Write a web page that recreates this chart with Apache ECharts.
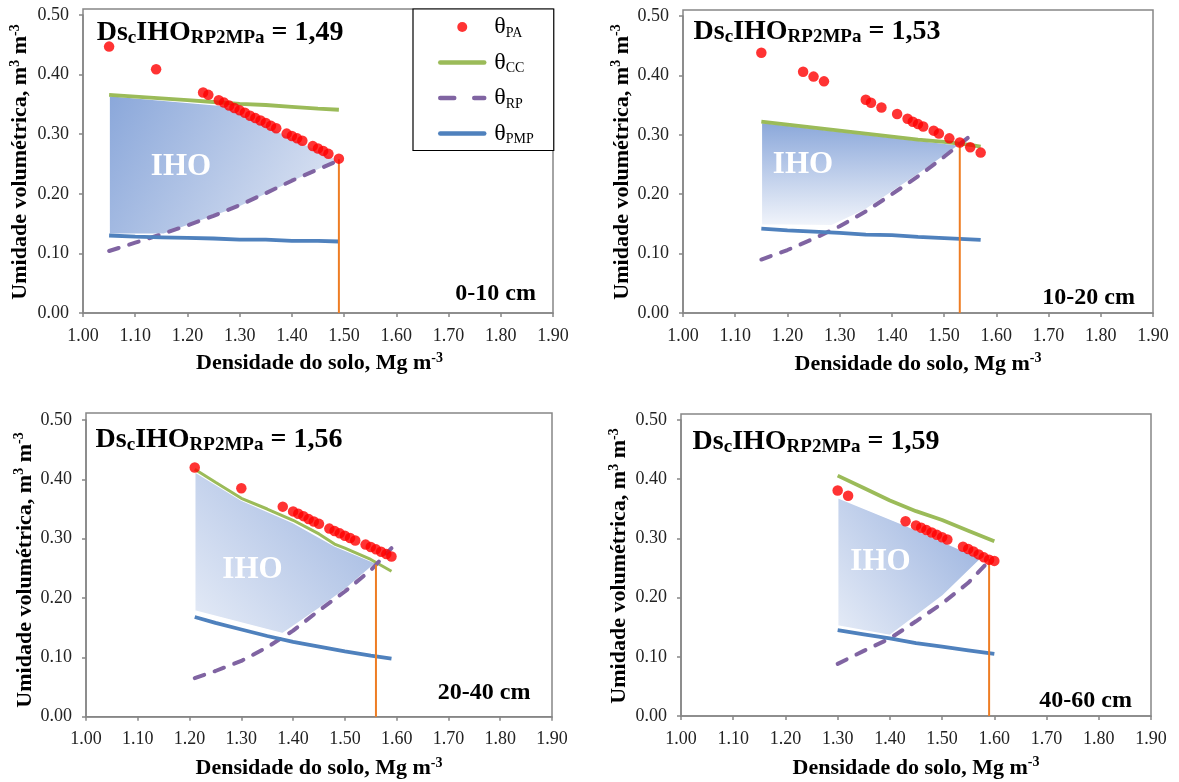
<!DOCTYPE html>
<html><head><meta charset="utf-8">
<script src="https://cdn.jsdelivr.net/npm/echarts@6/dist/echarts.min.js"></script>
<style>html,body{margin:0;padding:0;background:#fff}#c{width:1179px;height:782px}</style>
</head><body><div id="c"></div>
<script>
// ---------------- DATA ----------------
const depthLabels = ['0-10 cm', '10-20 cm', '20-40 cm', '40-60 cm'];
const dscLabels = ['1,49', '1,53', '1,56', '1,59'];
const dscValues = [1.49, 1.53, 1.56, 1.59];
const dscTops = [0.258, 0.283, 0.256, 0.265];
const legendNames = ['PA', 'CC', 'RP', 'PMP'];

// Panel 1 (0-10 cm)
const pa1X = [1.05,1.14,1.23,1.24,1.26,1.27,1.28,1.29,1.30,1.31,1.32,1.33,1.34,1.35,1.36,1.37,1.39,1.40,1.41,1.42,1.44,1.45,1.46,1.47,1.49];
const pa1Y = [0.447,0.409,0.370,0.366,0.357,0.353,0.348,0.344,0.340,0.336,0.331,0.327,0.323,0.319,0.314,0.310,0.301,0.297,0.293,0.289,0.280,0.276,0.272,0.267,0.259];
const cc1X = [1.05,1.10,1.15,1.20,1.25,1.30,1.35,1.40,1.45,1.49];
const cc1Y = [0.366,0.363,0.360,0.357,0.354,0.351,0.349,0.346,0.343,0.341];
const rp1X = [1.05,1.10,1.15,1.20,1.25,1.30,1.35,1.40,1.45,1.49];
const rp1Y = [0.104,0.118,0.132,0.147,0.163,0.181,0.201,0.222,0.241,0.256];
const pmp1X = [1.05,1.10,1.15,1.20,1.25,1.30,1.35,1.40,1.45,1.49];
const pmp1Y = [0.130,0.128,0.127,0.126,0.125,0.123,0.123,0.121,0.121,0.120];
const iho1X = [1.05,1.27,1.37,1.49,1.40,1.30,1.155,1.05];
const iho1Y = [0.365,0.348,0.306,0.256,0.220,0.178,0.132,0.132];

// Panel 2 (10-20 cm)
const pa2X = [1.15,1.23,1.25,1.27,1.35,1.36,1.38,1.41,1.43,1.44,1.45,1.46,1.48,1.49,1.51,1.53,1.55,1.57];
const pa2Y = [0.438,0.406,0.398,0.390,0.359,0.354,0.346,0.335,0.327,0.322,0.318,0.314,0.307,0.302,0.294,0.287,0.279,0.270];
const cc2X = [1.15,1.20,1.25,1.30,1.35,1.40,1.45,1.50,1.55,1.57];
const cc2Y = [0.322,0.317,0.312,0.307,0.302,0.297,0.292,0.288,0.283,0.280];
const rp2X = [1.15,1.20,1.25,1.30,1.35,1.40,1.45,1.50,1.53,1.56];
const rp2Y = [0.090,0.106,0.125,0.146,0.171,0.200,0.230,0.263,0.284,0.305];
const pmp2X = [1.15,1.20,1.25,1.30,1.35,1.40,1.45,1.50,1.55,1.57];
const pmp2Y = [0.142,0.139,0.137,0.135,0.132,0.131,0.128,0.126,0.124,0.123];
const iho2X = [1.15,1.53,1.45,1.35,1.285,1.15];
const iho2Y = [0.321,0.283,0.233,0.174,0.147,0.148];

// Panel 3 (20-40 cm)
const pa3X = [1.21,1.30,1.38,1.40,1.41,1.42,1.43,1.44,1.45,1.47,1.48,1.49,1.50,1.51,1.52,1.54,1.55,1.56,1.57,1.58,1.59];
const pa3Y = [0.420,0.385,0.354,0.346,0.342,0.338,0.333,0.329,0.325,0.317,0.313,0.309,0.305,0.301,0.297,0.290,0.286,0.282,0.278,0.274,0.270];
const cc3X = [1.21,1.25,1.30,1.35,1.40,1.45,1.48,1.50,1.55,1.59];
const cc3Y = [0.417,0.395,0.368,0.350,0.331,0.308,0.291,0.284,0.265,0.245];
const rp3X = [1.21,1.25,1.30,1.35,1.40,1.45,1.50,1.55,1.59];
const rp3Y = [0.065,0.077,0.094,0.117,0.145,0.179,0.211,0.247,0.284];
const pmp3X = [1.21,1.25,1.30,1.35,1.40,1.45,1.50,1.55,1.59];
const pmp3Y = [0.168,0.158,0.147,0.136,0.126,0.118,0.110,0.103,0.098];
const iho3X = [1.21,1.30,1.40,1.48,1.56,1.50,1.45,1.38,1.21];
const iho3Y = [0.413,0.365,0.327,0.288,0.259,0.214,0.182,0.140,0.178];

// Panel 4 (40-60 cm)
const pa4X = [1.30,1.32,1.43,1.45,1.46,1.47,1.48,1.49,1.50,1.51,1.54,1.55,1.56,1.57,1.58,1.59,1.60];
const pa4Y = [0.381,0.372,0.329,0.322,0.318,0.314,0.310,0.306,0.302,0.298,0.286,0.282,0.278,0.273,0.268,0.264,0.262];
const cc4X = [1.30,1.35,1.40,1.45,1.50,1.55,1.60];
const cc4Y = [0.406,0.385,0.364,0.346,0.331,0.313,0.295];
const rp4X = [1.30,1.35,1.40,1.45,1.50,1.55,1.59];
const rp4Y = [0.088,0.110,0.131,0.160,0.190,0.225,0.262];
const pmp4X = [1.30,1.35,1.40,1.45,1.50,1.55,1.60];
const pmp4Y = [0.145,0.138,0.131,0.123,0.117,0.111,0.105];
const iho4X = [1.30,1.43,1.575,1.50,1.40,1.30];
const iho4Y = [0.369,0.322,0.266,0.202,0.136,0.152];

// ---------------- LAYOUT / STYLE ----------------
const FONT = '"Liberation Serif","Times New Roman",serif';
const C_PA = '#ff0000', C_CC = '#9bbb59', C_RP = '#8064a2', C_PMP = '#4f81bd', C_DS = '#ee7d24';
const layout = [
  {left:83,  top:15,  width:470, height:298,   frameTop:9,   title:[96.7,17.3],  iho:[181,167],   depth:[536,294],    xTitle:[319.5,363.5], yTitle:[20.5,162], grad:[0,0,1,1,'#8aa7da','#e3e9f5']},
  {left:683, top:16,  width:470, height:297,   frameTop:10,  title:[693.6,16.3], iho:[803,165],   depth:[1135,297.4], xTitle:[918,364],     yTitle:[622,162],  grad:[0,0,0,1,'#8aa7da','#f2f5fb']},
  {left:86,  top:420, width:466, height:296.7, frameTop:413, title:[95.6,424.9], iho:[252.5,570], depth:[530.4,692.4],xTitle:[319,768.7],   yTitle:[25,570],   grad:[0,1,1,0,'#e6ecf7','#9bb3df']},
  {left:681, top:420, width:470, height:296,   frameTop:414, title:[692.6,426.5],iho:[880.5,561.7],depth:[1132,700.7],xTitle:[916,768],     yTitle:[619.5,566],grad:[0,1,1,0.2,'#e6ecf7','#9bb3df']}
];

const panelData = [
  {pa:[pa1X,pa1Y], cc:[cc1X,cc1Y], rp:[rp1X,rp1Y], pmp:[pmp1X,pmp1Y], iho:[iho1X,iho1Y]},
  {pa:[pa2X,pa2Y], cc:[cc2X,cc2Y], rp:[rp2X,rp2Y], pmp:[pmp2X,pmp2Y], iho:[iho2X,iho2Y]},
  {pa:[pa3X,pa3Y], cc:[cc3X,cc3Y], rp:[rp3X,rp3Y], pmp:[pmp3X,pmp3Y], iho:[iho3X,iho3Y]},
  {pa:[pa4X,pa4Y], cc:[cc4X,cc4Y], rp:[rp4X,rp4Y], pmp:[pmp4X,pmp4Y], iho:[iho4X,iho4Y]}
];
const zip = (xs, ys) => xs.map((x, k) => [x, ys[k]]);

const grids = [], xAxes = [], yAxes = [], series = [], graphics = [];
const axisColor = '#868686';

layout.forEach((L, i) => {
  grids.push({left:L.left, top:L.top, width:L.width, height:L.height, containLabel:false});
  xAxes.push({
    type:'value', gridIndex:i, min:1.0, max:1.9, interval:0.1,
    axisLine:{show:true, onZero:false, lineStyle:{color:axisColor, width:1.5}},
    axisTick:{show:true, inside:false, length:4, lineStyle:{color:axisColor, width:1.5}},
    splitLine:{show:false},
    axisLabel:{fontFamily:FONT, fontSize:18, color:'#222', margin:14, formatter:v => v.toFixed(2)}
  });
  yAxes.push({
    type:'value', gridIndex:i, min:0, max:0.5, interval:0.1,
    axisLine:{show:true, onZero:false, lineStyle:{color:axisColor, width:1.5}},
    axisTick:{show:true, inside:false, length:4, lineStyle:{color:axisColor, width:1.5}},
    splitLine:{show:false},
    axisLabel:{fontFamily:FONT, fontSize:18, color:'#222', margin:14, formatter:v => v.toFixed(2)}
  });
  const D = panelData[i];
  const g = L.grad;
  const fill = new echarts.graphic.LinearGradient(g[0], g[1], g[2], g[3], [{offset:0, color:g[4]}, {offset:1, color:g[5]}]);
  series.push({
    type:'custom', name:'IHO', coordinateSystem:'cartesian2d', xAxisIndex:i, yAxisIndex:i,
    data:[[D.iho[0][0], D.iho[1][0]]], silent:true, z:1,
    renderItem:(params, api) => {
      const pts = D.iho[0].map((x, k) => api.coord([x, D.iho[1][k]]));
      return {type:'polygon', shape:{points:pts}, style:{fill:fill, stroke:'#ffffff', lineWidth:1.5}};
    }
  });
  series.push({type:'line', name:'CC', xAxisIndex:i, yAxisIndex:i, data:zip(D.cc[0], D.cc[1]), symbol:'none', color:C_CC,
    lineStyle:{color:C_CC, width:i===2?3:3.8}, z:3, silent:true});
  series.push({type:'line', name:'RP', xAxisIndex:i, yAxisIndex:i, data:zip(D.rp[0], D.rp[1]), symbol:'none', color:C_RP,
    lineStyle:{color:C_RP, width:4, type:[10,11], cap:'round'}, z:3, silent:true});
  series.push({type:'line', name:'PMP', xAxisIndex:i, yAxisIndex:i, data:zip(D.pmp[0], D.pmp[1]), symbol:'none', color:C_PMP,
    lineStyle:{color:C_PMP, width:3.8}, z:3, silent:true});
  series.push({type:'line', name:'Dsc', xAxisIndex:i, yAxisIndex:i, data:[[dscValues[i], 0], [dscValues[i], dscTops[i]]], symbol:'none', color:C_DS,
    lineStyle:{color:C_DS, width:2}, z:4, silent:true});
  series.push({type:'scatter', name:'PA', xAxisIndex:i, yAxisIndex:i, data:zip(D.pa[0], D.pa[1]), symbol:'circle', symbolSize:10.5,
    itemStyle:{color:C_PA}, z:5, silent:true});

  graphics.push({type:'rect', silent:true, z:0,
    shape:{x:L.left, y:L.frameTop, width:L.width, height:L.top + L.height - L.frameTop},
    style:{fill:null, stroke:axisColor, lineWidth:1.5}});
  graphics.push({type:'text', silent:true, z:10, x:L.title[0], y:L.title[1],
    style:{text:'{m|Ds}{s|c}{m|IHO}{s|RP2MPa}{m| = ' + dscLabels[i] + '}', align:'left', verticalAlign:'top',
      rich:{
        m:{fontFamily:FONT, fontSize:28, fontWeight:'bold', fill:'#000', lineHeight:30},
        s:{fontFamily:FONT, fontSize:19, fontWeight:'bold', fill:'#000', lineHeight:14, verticalAlign:'bottom'}
      }}});
  graphics.push({type:'text', silent:true, z:10, x:L.iho[0], y:L.iho[1],
    style:{text:'IHO', font:'bold 31px ' + FONT, fill:'#ffffff', align:'center', verticalAlign:'middle'}});
  graphics.push({type:'text', silent:true, z:10, x:L.depth[0], y:L.depth[1],
    style:{text:depthLabels[i], font:'bold 24px ' + FONT, fill:'#000', align:'right', verticalAlign:'middle'}});
  graphics.push({type:'text', silent:true, z:10, x:L.xTitle[0], y:L.xTitle[1],
    style:{text:'{m|Densidade do solo, Mg m}{p|-3}', align:'center', verticalAlign:'middle',
      rich:{
        m:{fontFamily:FONT, fontSize:22, fontWeight:'bold', fill:'#000', lineHeight:25},
        p:{fontFamily:FONT, fontSize:14, fontWeight:'bold', fill:'#000', lineHeight:13, verticalAlign:'top'}
      }}});
  graphics.push({type:'text', silent:true, z:10, x:L.yTitle[0], y:L.yTitle[1], rotation:Math.PI/2,
    style:{text:'{m|Umidade volumétrica, m}{p|3}{m| m}{p|-3}', align:'center', verticalAlign:'middle',
      rich:{
        m:{fontFamily:FONT, fontSize:22, fontWeight:'bold', fill:'#000', lineHeight:25},
        p:{fontFamily:FONT, fontSize:14, fontWeight:'bold', fill:'#000', lineHeight:13, verticalAlign:'top'}
      }}});
});

const noSym = {color:'rgba(0,0,0,0)', borderColor:'rgba(0,0,0,0)', borderWidth:0, opacity:0};
const chart = echarts.init(document.getElementById('c'), null, {renderer:'canvas'});
chart.setOption({
  backgroundColor:'#ffffff',
  animation:false,
  grid:grids, xAxis:xAxes, yAxis:yAxes, series:series,
  legend:{
    show:true,
    data:[
      {name:legendNames[0]},
      {name:legendNames[1], itemStyle:noSym, lineStyle:{width:4.5, cap:'round'}},
      {name:legendNames[2], itemStyle:noSym, lineStyle:{width:4.5, type:[14,20], cap:'round'}},
      {name:legendNames[3], itemStyle:noSym, lineStyle:{width:4.5, cap:'round'}}
    ],
    orient:'vertical', left:413, top:9,
    padding:[6, 20, 4, 25], itemGap:10.5, itemWidth:44, itemHeight:10,
    borderColor:'#000', borderWidth:1.2, backgroundColor:'#ffffff', selectedMode:false, z:20,
    formatter:n => '{t|θ}{s|' + n + '}',
    textStyle:{
      rich:{
        t:{fontFamily:FONT, fontSize:24, color:'#000', lineHeight:26, padding:[0,0,0,5]},
        s:{fontFamily:FONT, fontSize:14, color:'#000', lineHeight:10, verticalAlign:'bottom'}
      }
    }
  },
  graphic:graphics
});
</script>
</body></html>
